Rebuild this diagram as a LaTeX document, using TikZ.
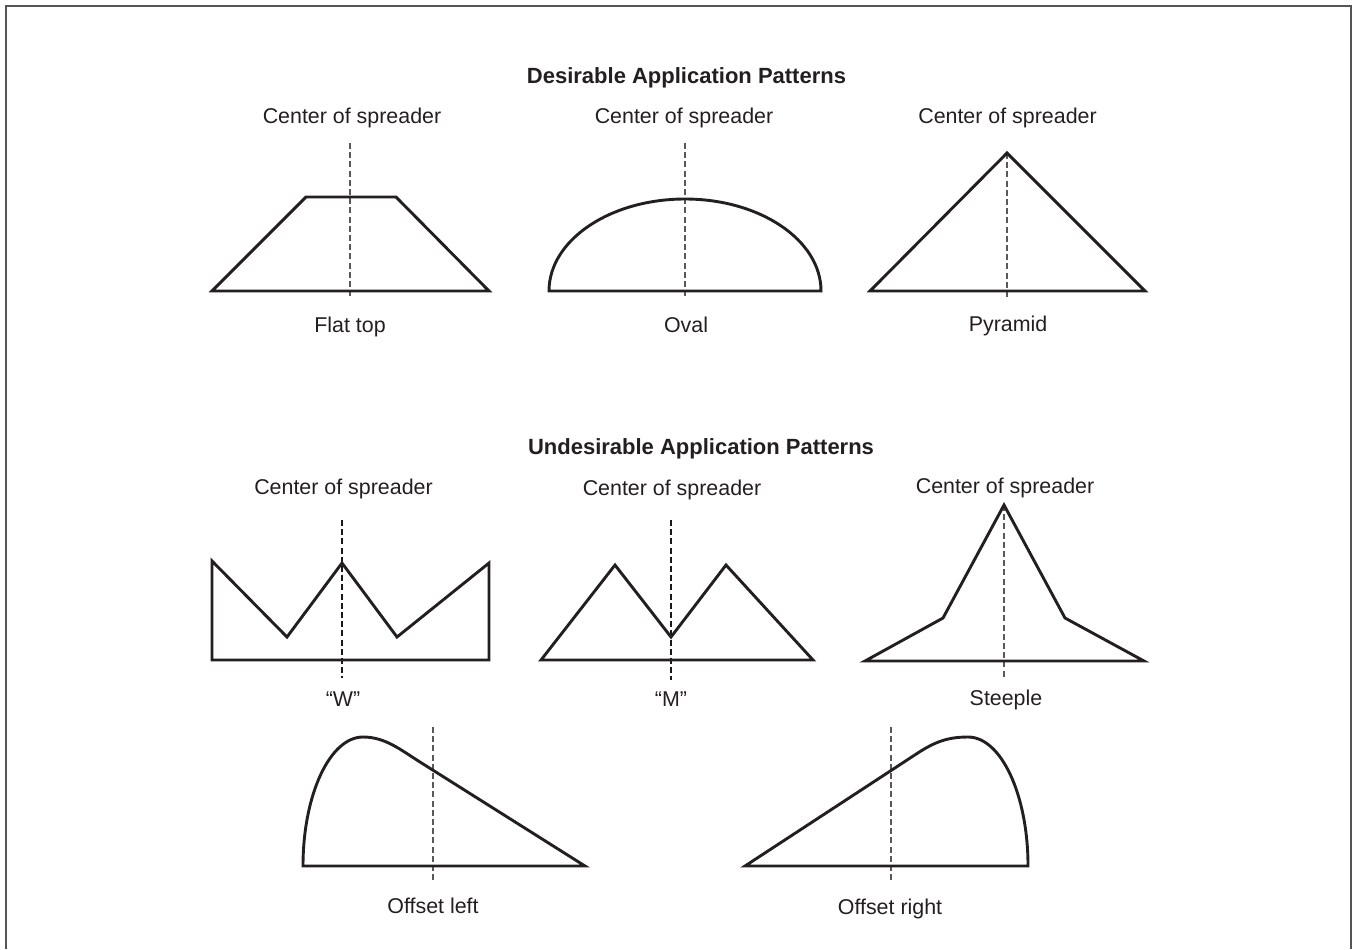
\documentclass[tikz,border=0pt]{standalone}
\usepackage{fontspec}
\setmainfont{Liberation Sans}
\definecolor{ink}{HTML}{231F20}
\definecolor{framecol}{HTML}{555555}
\tikzset{
  outl/.style={draw=ink, line width=1.45pt, line join=miter},
  cline/.style={draw=black!65, line width=0.6pt, dash pattern=on 3pt off 1.6pt},
  clinedark/.style={draw=black!90, line width=0.6pt, dash pattern=on 3pt off 1.6pt},
  lbl/.style={anchor=base, inner sep=0pt, text=ink, font=\fontsize{10.7}{12.8}\selectfont},
  ttl/.style={anchor=base, inner sep=0pt, text=ink, font=\fontsize{11}{13}\selectfont\bfseries},
}
\begin{document}
\begin{tikzpicture}[x=0.5pt,y=-0.5pt]
\useasboundingbox (0,0) rectangle (1352,949);
% frame
\draw[framecol, line width=0.6pt] (6,949) -- (6,6) -- (1351,6) -- (1351,949);

% titles
\node[ttl] (t1) at (686.5,83) {Desirable Application Patterns};
\node[ttl] (t2) at (701,454) {Undesirable Application Patterns};

% ---- Row 1 ----
\node[lbl] (c1) at (352,123) {Center of spreader};
\node[lbl] (c2) at (684,123) {Center of spreader};
\node[lbl] (c3) at (1007.5,123) {Center of spreader};

% flat top
\draw[cline] (350,143) -- (350,299);
\draw[outl] (212,291) -- (306,197) -- (396,197) -- (489,291) -- cycle;
\node[lbl] (l1) at (350,332) {Flat top};

% oval
\draw[cline] (685,143) -- (685,299);
\draw[outl] (549,291) arc[start angle=180, end angle=0, x radius=136, y radius=-92] -- cycle;
\node[lbl] (l2) at (686,332) {Oval};

% pyramid
\draw[cline] (1007,153) -- (1007,299);
\draw[outl] (870,291) -- (1007,153) -- (1145,291) -- cycle;
\node[lbl] (l3) at (1008,331) {Pyramid};

% ---- Row 2 ----
\node[lbl] (c4) at (343.5,494) {Center of spreader};
\node[lbl] (c5) at (672,495) {Center of spreader};
\node[lbl] (c6) at (1005,493) {Center of spreader};

% W
\draw[clinedark] (342,520) -- (342,678);
\draw[outl] (212,660) -- (212,561) -- (287,637) -- (342,563) -- (397,637) -- (489,563) -- (489,660) -- cycle;
\node[lbl] (l4) at (343,706) {“W”};

% M
\draw[clinedark] (671,520) -- (671,680);
\draw[outl] (541,660) -- (615,565) -- (671,637) -- (726,565) -- (813,660) -- cycle;
\node[lbl] (l5) at (671,706) {“M”};

% steeple
\draw[cline] (1004,505) -- (1004,677);
\draw[outl] (865,661) -- (943,618) -- (1004,505) -- (1065,618) -- (1144,661) -- cycle;
\node[lbl] (l6) at (1006,705) {Steeple};

% ---- Row 3 ----
% offset left
\draw[cline] (433,727) -- (433,882);
\draw[outl] (303,866) .. controls (303,794.8) and (329.9,737) .. (363,737)
  .. controls (385,737) and (400,749.4) .. (420,762) -- (585,866) -- cycle;
\node[lbl] (l7) at (433,913) {Offset left};

% offset right
\draw[cline] (891,727) -- (891,882);
\draw[outl] (1028,866) .. controls (1028,794.8) and (1001.1,737) .. (968,737)
  .. controls (948,737) and (935,741.7) .. (917,753.5) -- (745,866) -- cycle;
\node[lbl] (l8) at (890,914) {Offset right};
\end{tikzpicture}
\end{document}
